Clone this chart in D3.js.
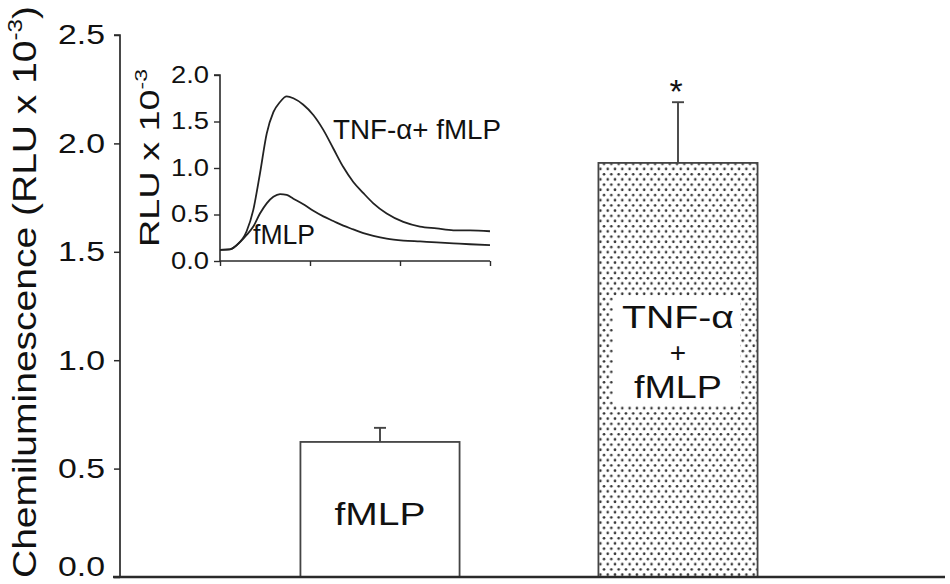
<!DOCTYPE html>
<html>
<head>
<meta charset="utf-8">
<script src="https://cdn.jsdelivr.net/npm/d3@7"></script>
<style>
  html, body { margin: 0; padding: 0; background: #fff; }
  svg { display: block; font-family: "Liberation Sans", Arial, sans-serif; }
</style>
</head>
<body>
<svg id="chart" width="950" height="584"></svg>
<script>
// ---------- data ----------
const categories = ["fMLP", "TNF-α + fMLP"];
const barValues = [0.623, 1.91];
const errValues = [0.065, 0.28];
const significance = ["", "*"];
const yTicks = [0, 0.5, 1.0, 1.5, 2.0, 2.5];

// inset kinetics (time in arbitrary units 0..3)
const insetTime = [0, 0.11, 0.185, 0.296, 0.37, 0.444, 0.519, 0.593, 0.667, 0.741, 0.815, 0.926, 1.037, 1.148, 1.259, 1.37, 1.481, 1.593, 1.704, 1.852, 2.037, 2.222, 2.407, 2.593, 2.778, 3.0];
const insetTNF  = [0.12, 0.125, 0.17, 0.32, 0.55, 0.94, 1.37, 1.60, 1.71, 1.77, 1.75, 1.68, 1.57, 1.41, 1.21, 1.01, 0.85, 0.73, 0.62, 0.51, 0.42, 0.37, 0.35, 0.33, 0.33, 0.32];
const insetFMLP = [0.12, 0.125, 0.17, 0.28, 0.37, 0.51, 0.62, 0.69, 0.72, 0.71, 0.67, 0.61, 0.54, 0.48, 0.43, 0.38, 0.34, 0.30, 0.27, 0.24, 0.22, 0.21, 0.20, 0.19, 0.18, 0.17];
const insetYTicks = [0, 0.5, 1.0, 1.5, 2.0];
const insetXTicks = [0, 1, 2, 3];

// ---------- setup ----------
const svg = d3.select("#chart");
const ink = "#2a2a2a";

const x = d3.scaleBand().domain(categories).range([172, 886]).paddingInner(0.466).paddingOuter(0.431);
const y = d3.scaleLinear().domain([0, 2.5]).range([577, 35]);

// dot pattern
const defs = svg.append("defs");
const pat = defs.append("pattern").attr("id", "dots").attr("patternUnits", "userSpaceOnUse")
  .attr("width", 7.3).attr("height", 10.4);
pat.append("rect").attr("width", 7.3).attr("height", 10.4).attr("fill", "#fff");
pat.append("circle").attr("cx", 1.8).attr("cy", 2.6).attr("r", 1.3).attr("fill", "#333");
pat.append("circle").attr("cx", 5.45).attr("cy", 7.8).attr("r", 1.3).attr("fill", "#333");

// ---------- bars ----------
svg.append("g").selectAll("rect").data(categories).join("rect")
  .attr("x", d => x(d)).attr("y", (d, i) => y(barValues[i]))
  .attr("width", x.bandwidth()).attr("height", (d, i) => y(0) - y(barValues[i]))
  .attr("fill", (d, i) => i === 0 ? "#fff" : "url(#dots)")
  .attr("stroke", "#444").attr("stroke-width", 1.8);

// error bars
const eg = svg.append("g").attr("stroke", "#444").attr("stroke-width", 1.9);
categories.forEach((c, i) => {
  const cx = x(c) + x.bandwidth() / 2;
  eg.append("line").attr("x1", cx).attr("x2", cx).attr("y1", y(barValues[i])).attr("y2", y(barValues[i] + errValues[i]));
  eg.append("line").attr("x1", cx - 6).attr("x2", cx + 6).attr("y1", y(barValues[i] + errValues[i])).attr("y2", y(barValues[i] + errValues[i]));
  if (significance[i]) {
    svg.append("text").attr("x", cx - 2).attr("y", y(barValues[i] + errValues[i]) + 1)
      .attr("text-anchor", "middle").attr("font-size", 34).attr("fill", "#111").text(significance[i]);
  }
});

// ---------- axes ----------
const yAxis = svg.append("g").attr("transform", "translate(120,0)")
  .call(d3.axisLeft(y).tickValues(yTicks).tickFormat(d3.format(".1f")).tickSize(6).tickPadding(9));
yAxis.select(".domain").attr("stroke", ink).attr("stroke-width", 1.7).attr("d", "M-6," + y(2.5) + "H0V" + y(0));
yAxis.selectAll(".tick line").attr("stroke", ink).attr("stroke-width", 1.5);
yAxis.selectAll(".tick text").attr("font-size", 28).attr("fill", "#111")
  .attr("font-family", "Liberation Sans, Arial, sans-serif")
  .attr("textLength", 47).attr("lengthAdjust", "spacingAndGlyphs")
  .attr("y", d => d === 0 ? -10 : 0);

// x baseline
svg.append("line").attr("x1", 113).attr("x2", 945).attr("y1", y(0)).attr("y2", y(0))
  .attr("stroke", ink).attr("stroke-width", 2.6);

// y title
const yt = svg.append("text").attr("transform", "translate(36,578) rotate(-90)")
  .attr("font-size", 34).attr("fill", "#111")
  .attr("textLength", 572).attr("lengthAdjust", "spacingAndGlyphs");
yt.append("tspan").text("Chemiluminescence (RLU x 10");
yt.append("tspan").attr("font-size", 21).attr("dy", -14).text("-3");
yt.append("tspan").attr("dy", 14).text(")");

// bar labels
const c0 = x(categories[0]) + x.bandwidth() / 2;
const c1 = x(categories[1]) + x.bandwidth() / 2;
// white background box behind the labels inside the dotted bar
svg.append("rect").attr("x", c1 - 65).attr("y", 297).attr("width", 127).attr("height", 108).attr("fill", "#fff");

function label(txt, cx, by, len) {
  svg.append("text").attr("x", cx).attr("y", by).attr("text-anchor", "middle")
    .attr("font-size", 32).attr("fill", "#111")
    .attr("textLength", len).attr("lengthAdjust", "spacingAndGlyphs").text(txt);
}
label("fMLP", c0, 525, 91);
label("TNF-α", c1, 328, 112);
svg.append("text").attr("x", c1).attr("y", 362).attr("text-anchor", "middle")
  .attr("font-size", 28).attr("fill", "#111").text("+");
label("fMLP", c1, 398, 88);

// ---------- inset ----------
const ix = d3.scaleLinear().domain([0, 3]).range([220, 490]);
const iy = d3.scaleLinear().domain([0, 2]).range([261, 75]);

const iyAxis = svg.append("g").attr("transform", "translate(220,0)")
  .call(d3.axisLeft(iy).tickValues(insetYTicks).tickFormat(d3.format(".1f")).tickSize(6).tickPadding(5));
iyAxis.select(".domain").attr("stroke", ink).attr("stroke-width", 1.6).attr("d", "M-6," + iy(2) + "H0V" + iy(0));
iyAxis.selectAll(".tick line").attr("stroke", ink).attr("stroke-width", 1.4);
iyAxis.selectAll(".tick text").attr("font-size", 23).attr("fill", "#111")
  .attr("font-family", "Liberation Sans, Arial, sans-serif")
  .attr("textLength", 38).attr("lengthAdjust", "spacingAndGlyphs");

const ixAxis = svg.append("g").attr("transform", "translate(0," + iy(0) + ")")
  .call(d3.axisBottom(ix).tickValues(insetXTicks).tickFormat("").tickSize(5));
ixAxis.select(".domain").attr("stroke", ink).attr("stroke-width", 1.6).attr("d", "M" + ix(0) + ",0H" + ix(3));
ixAxis.selectAll(".tick line").attr("stroke", ink).attr("stroke-width", 1.4);

const line = d3.line().x((d, i) => ix(insetTime[i])).y(d => iy(d)).curve(d3.curveMonotoneX);
svg.append("path").datum(insetTNF).attr("d", line).attr("fill", "none").attr("stroke", "#222").attr("stroke-width", 1.8);
svg.append("path").datum(insetFMLP).attr("d", line).attr("fill", "none").attr("stroke", "#222").attr("stroke-width", 1.8);

// inset y title
const it = svg.append("text").attr("transform", "translate(159,247) rotate(-90)")
  .attr("font-size", 28).attr("fill", "#111")
  .attr("textLength", 178).attr("lengthAdjust", "spacingAndGlyphs");
it.append("tspan").text("RLU x 10");
it.append("tspan").attr("font-size", 17).attr("dy", -12).text("-3");

// inset series labels
svg.append("text").attr("x", 333).attr("y", 139).attr("font-size", 27).attr("fill", "#111")
  .attr("textLength", 168).attr("lengthAdjust", "spacingAndGlyphs").text("TNF-α+ fMLP");
svg.append("text").attr("x", 253).attr("y", 244).attr("font-size", 27).attr("fill", "#111")
  .attr("textLength", 62).attr("lengthAdjust", "spacingAndGlyphs").text("fMLP");
</script>
</body>
</html>
